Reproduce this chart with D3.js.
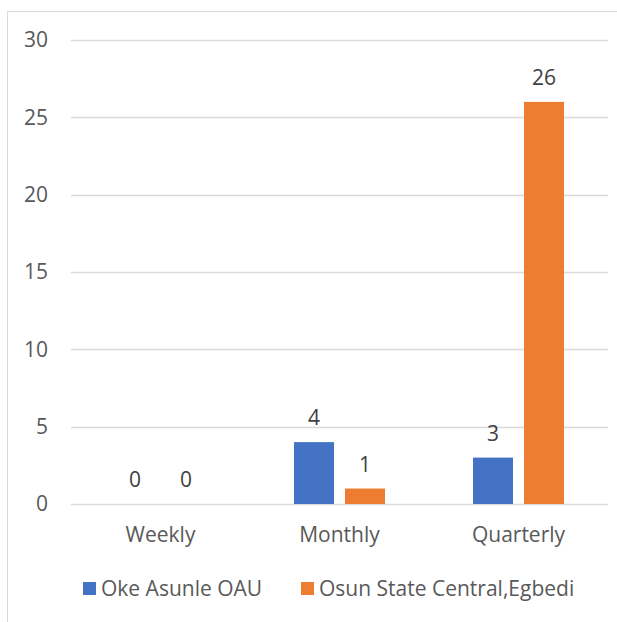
<!DOCTYPE html>
<html>
<head>
<meta charset="utf-8">
<script src="https://cdn.jsdelivr.net/npm/d3@7.9.0/dist/d3.min.js"></script>
<style>
  body { margin: 0; background: #fff; }
  svg { display: block; font-family: "Open Sans", "Noto Sans", sans-serif; }
</style>
</head>
<body>
<div id="chart"></div>
<script>
// chart data
const categories = ['Weekly', 'Monthly', 'Quarterly'];
const seriesNames = ['Oke Asunle OAU', 'Osun State Central,Egbedi'];
const okeAsunle = [0, 4, 3];
const osunCentral = [0, 1, 26];
const yTicks = [0, 5, 10, 15, 20, 25, 30];
const colors = ['#4472C4', '#ED7D31'];

const width = 617;
const height = 622;
const fontSize = 21;

const svg = d3.select('#chart')
  .append('svg')
  .attr('width', width)
  .attr('height', height);

// chart border
svg.append('rect')
  .attr('x', 7.5)
  .attr('y', 11.5)
  .attr('width', 640)
  .attr('height', 640)
  .attr('fill', 'none')
  .attr('stroke', '#d9d9d9');

const plot = { left: 71, right: 608, top: 40, bottom: 504 };

const x0 = d3.scaleBand()
  .domain(categories)
  .range([plot.left, plot.right]);

const x1 = d3.scaleBand()
  .domain(seriesNames)
  .range([0, 91])
  .paddingInner(0.216);

const y = d3.scaleLinear()
  .domain([0, 30])
  .range([plot.bottom, plot.top]);

// gridlines
svg.append('g')
  .attr('class', 'grid')
  .selectAll('line')
  .data(yTicks)
  .join('line')
  .attr('x1', plot.left)
  .attr('x2', plot.right)
  .attr('y1', d => Math.round(y(d)) + 0.5)
  .attr('y2', d => Math.round(y(d)) + 0.5)
  .attr('stroke', '#d9d9d9')
  .attr('stroke-width', 1.3);

// y axis labels
const yAxis = d3.axisLeft(y).tickValues(yTicks).tickSize(0).tickPadding(0);
svg.append('g')
  .attr('transform', 'translate(48,0)')
  .call(yAxis)
  .call(g => g.select('.domain').remove())
  .selectAll('text')
  .attr('font-size', fontSize)
  .attr('font-family', '"Open Sans", sans-serif')
  .attr('fill', '#595959');

// x axis labels
const xAxis = d3.axisBottom(x0).tickSize(0).tickPadding(0);
svg.append('g')
  .attr('transform', `translate(0,${plot.bottom + 23})`)
  .call(xAxis)
  .call(g => g.select('.domain').remove())
  .selectAll('text')
  .attr('font-size', fontSize)
  .attr('font-family', '"Open Sans", sans-serif')
  .attr('fill', '#595959');

const rows = categories.map((c, i) => ({
  category: c,
  values: [okeAsunle[i], osunCentral[i]]
}));

const groups = svg.append('g')
  .selectAll('g')
  .data(rows)
  .join('g')
  .attr('transform', d => `translate(${x0(d.category) + x0.bandwidth() / 2 - 45.5},0)`);

groups.selectAll('rect')
  .data(d => d.values.map((v, j) => ({ name: seriesNames[j], value: v, j })))
  .join('rect')
  .attr('x', d => x1(d.name))
  .attr('y', d => y(d.value))
  .attr('width', x1.bandwidth())
  .attr('height', d => y(0) - y(d.value))
  .attr('fill', d => colors[d.j]);

groups.selectAll('text')
  .data(d => d.values.map((v, j) => ({ name: seriesNames[j], value: v, j })))
  .join('text')
  .attr('x', d => x1(d.name) + x1.bandwidth() / 2)
  .attr('y', d => y(d.value) - 17)
  .attr('text-anchor', 'middle')
  .attr('font-size', fontSize)
  .attr('fill', '#404040')
  .text(d => d.value);

// legend
const legend = svg.append('g').attr('transform', 'translate(0,596)');
const legendX = [83, 301];
const item = legend.selectAll('g')
  .data(seriesNames)
  .join('g')
  .attr('transform', (d, i) => `translate(${legendX[i]},0)`);

item.append('rect')
  .attr('x', 0)
  .attr('y', -14)
  .attr('width', 13)
  .attr('height', 13)
  .attr('fill', (d, i) => colors[i]);

item.append('text')
  .attr('x', 18)
  .attr('y', 0)
  .attr('font-size', fontSize)
  .attr('fill', '#595959')
  .text(d => d);
</script>
</body>
</html>
